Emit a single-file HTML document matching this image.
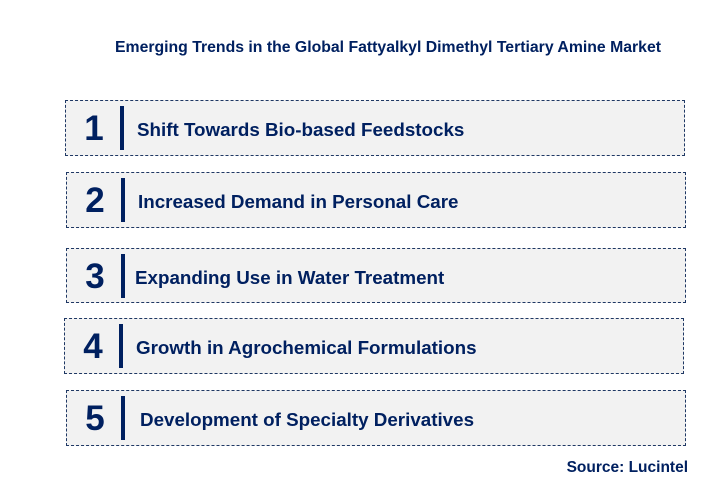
<!DOCTYPE html>
<html><head><meta charset="utf-8"><style>
body{margin:0;width:712px;height:481px;background:#fff;font-family:"Liberation Sans",Arial,sans-serif;position:relative;overflow:hidden;color:#002060}
.t{position:absolute;left:0;width:776px;text-align:center;top:39px;font-size:15.8px;font-weight:bold}
.box{position:absolute;width:618px;height:54px;background:#f2f2f2;border:1px dashed #1f3864;box-sizing:border-box}
.n{position:absolute;left:14px;width:28px;text-align:center;top:10px;font-size:35px;font-weight:bold;line-height:36px}
.bar{position:absolute;left:54px;top:5px;width:4px;height:44px;background:#002060}
.l{position:absolute;left:71px;top:18px;font-size:18.8px;font-weight:bold;line-height:22px;white-space:nowrap}
.s{position:absolute;right:24px;top:459px;font-size:15.5px;font-weight:bold}
</style></head><body>
<div class="t">Emerging Trends in the Global Fattyalkyl Dimethyl Tertiary Amine Market</div>
<div class="box" style="left:65px;top:100px;width:620px;height:56px"><div class="n">1</div><div class="bar"></div><div class="l">Shift Towards Bio-based Feedstocks</div></div>
<div class="box" style="left:66px;top:172px;width:620px;height:56px"><div class="n">2</div><div class="bar"></div><div class="l">Increased Demand in Personal Care</div></div>
<div class="box" style="left:66px;top:248px;width:620px;height:55px"><div class="n">3</div><div class="bar"></div><div class="l" style="left:68px">Expanding Use in Water Treatment</div></div>
<div class="box" style="left:64px;top:318px;width:620px;height:56px"><div class="n">4</div><div class="bar"></div><div class="l">Growth in Agrochemical Formulations</div></div>
<div class="box" style="left:66px;top:390px;width:620px;height:56px"><div class="n">5</div><div class="bar"></div><div class="l" style="left:73px">Development of Specialty Derivatives</div></div>
<div class="s">Source: Lucintel</div>
</body></html>
